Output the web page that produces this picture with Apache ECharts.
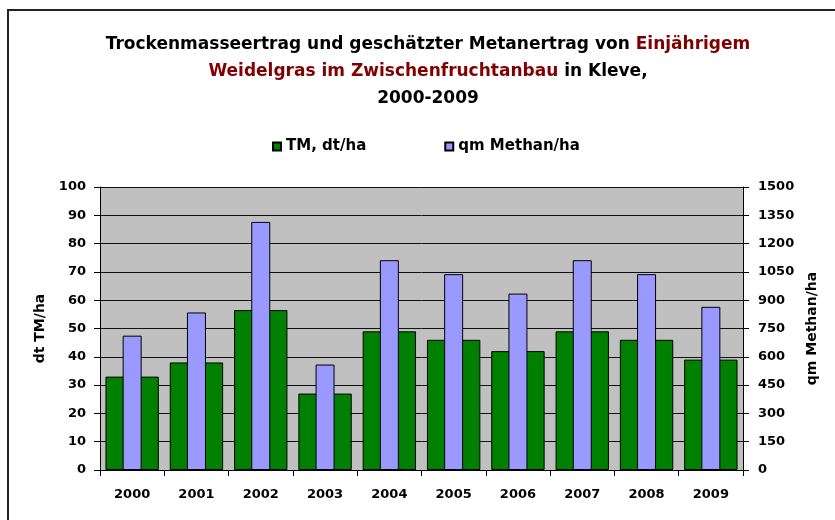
<!DOCTYPE html>
<html>
<head>
<meta charset="utf-8">
<script src="https://cdn.jsdelivr.net/npm/echarts@6/dist/echarts.min.js"></script>
<style>
html,body{margin:0;padding:0;background:#fff;}
#chart{width:835px;height:520px;}
</style>
</head>
<body>
<div id="chart"></div>
<script>
const years = ['2000','2001','2002','2003','2004','2005','2006','2007','2008','2009'];
const tmValues = [33, 38, 56.5, 27, 49, 46, 42, 49, 46, 39];
const methanValues = [712, 835, 1315, 559, 1112, 1038, 935, 1112, 1038, 865];
const seriesNames = ['TM, dt/ha', 'qm Methan/ha'];
const axisNames = ['dt TM/ha', 'qm Methan/ha'];
const titleText = 'Trockenmasseertrag und geschätzter Metanertrag von {r|Einjährigem}\n{r|Weidelgras im Zwischenfruchtanbau} in Kleve,\n2000-2009';

const FONT = '"DejaVu Sans", sans-serif';
const chart = echarts.init(document.getElementById('chart'));
const lbl = { fontFamily: FONT, fontWeight: 'bold', fontSize: 13, color: '#000' };

chart.setOption({
  animation: false,
  backgroundColor: '#fff',
  graphic: [
    { type: 'rect', silent: true, shape: { x: 8, y: 10, width: 900, height: 600 },
      style: { fill: 'none', stroke: '#222', lineWidth: 2 } },
    { type: 'text', x: 428, y: 31,
      style: { text: titleText, align: 'center', verticalAlign: 'top', fill: '#000',
        fontFamily: FONT, fontWeight: 'bold', fontSize: 17, lineHeight: 27,
        rich: { r: { fill: '#800000', fontFamily: FONT, fontWeight: 'bold', fontSize: 17, lineHeight: 27 } } } }
  ],
  legend: {
    left: 267, top: 134, itemWidth: 8, itemHeight: 8, itemGap: 78,
    icon: 'rect',
    textStyle: { fontFamily: FONT, fontWeight: 'bold', fontSize: 15, color: '#000' },
    data: seriesNames
  },
  grid: { left: 100, right: 92, top: 187, bottom: 50, show: true, backgroundColor: '#C0C0C0', borderWidth: 0 },
  xAxis: [
    { type: 'category', data: years,
      axisLine: { lineStyle: { color: '#000', width: 1 } },
      axisTick: { show: true, length: 6, lineStyle: { color: '#000' } },
      axisLabel: Object.assign({ margin: 18 }, lbl) },
    { type: 'category', data: years, show: false, position: 'bottom' }
  ],
  yAxis: [
    { type: 'value', min: 0, max: 100, interval: 10, position: 'left',
      name: axisNames[0], nameLocation: 'middle', nameRotate: 90, nameGap: 53,
      nameTextStyle: { fontFamily: FONT, fontWeight: 'bold', fontSize: 14, color: '#000' },
      axisLine: { show: true, lineStyle: { color: '#000' } },
      axisTick: { show: true, length: 6, lineStyle: { color: '#000' } },
      axisLabel: Object.assign({ margin: 14, formatter: v => String(v) }, lbl),
      splitLine: { show: true, lineStyle: { color: '#111', width: 1 } } },
    { type: 'value', min: 0, max: 1500, interval: 150, position: 'right',
      name: axisNames[1], nameLocation: 'middle', nameRotate: 90, nameGap: 62,
      nameTextStyle: { fontFamily: FONT, fontWeight: 'bold', fontSize: 14, color: '#000' },
      axisLine: { show: true, lineStyle: { color: '#000' } },
      axisTick: { show: true, length: 6, lineStyle: { color: '#000' } },
      axisLabel: Object.assign({ margin: 15, formatter: v => String(v) }, lbl),
      splitLine: { show: false } }
  ],
  series: [
    { name: seriesNames[0], type: 'bar', xAxisIndex: 0, yAxisIndex: 0, data: tmValues,
      barCategoryGap: '17%',
      itemStyle: { color: '#008000', borderColor: '#000', borderWidth: 1 } },
    { name: seriesNames[1], type: 'bar', xAxisIndex: 1, yAxisIndex: 1, data: methanValues,
      barWidth: 19,
      itemStyle: { color: '#9999FF', borderColor: '#000', borderWidth: 1 } }
  ]
});
</script>
</body>
</html>
